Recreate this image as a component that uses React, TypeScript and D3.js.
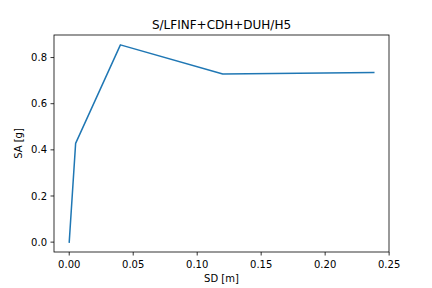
import React from "react";
import * as d3 from "d3";

const sdValues = [0, 0.005, 0.04, 0.12, 0.238];
const saValues = [0, 0.428, 0.855, 0.729, 0.735];
const xTicks = [0, 0.05, 0.1, 0.15, 0.2, 0.25];
const yTicks = [0, 0.2, 0.4, 0.6, 0.8];
const title = "S/LFINF+CDH+DUH/H5";
const xLabel = "SD [m]";
const yLabel = "SA [g]";

export default function App() {
  const W = 432, H = 288;
  const left = 54, right = 389, top = 35, bottom = 252;
  const xMax = d3.max(sdValues)!;
  const yMax = d3.max(saValues)!;
  const x = d3.scaleLinear().domain([-0.05 * xMax, 1.05 * xMax]).range([left, right]);
  const y = d3.scaleLinear().domain([-0.05 * yMax, 1.05 * yMax]).range([bottom, top]);
  const pts: [number, number][] = sdValues.map((d, i) => [d, saValues[i]]);
  const line = d3.line<[number, number]>().x((d) => x(d[0])).y((d) => y(d[1]));
  const font = "DejaVu Sans, sans-serif";
  return (
    <svg width={W} height={H} style={{ position: "absolute", left: 0, top: 0, background: "#fff" }} fontFamily={font}>
      <rect x={0} y={0} width={W} height={H} fill="#fff" />
      <path d={line(pts)!} fill="none" stroke="#1f77b4" strokeWidth={1.5} strokeLinejoin="round" strokeLinecap="square" />
      <rect x={left} y={top} width={right - left} height={bottom - top} fill="none" stroke="#000" strokeWidth={0.8} />
      {xTicks.map((t) => (
        <g key={"x" + t}>
          <line x1={x(t)} x2={x(t)} y1={bottom} y2={bottom + 3.5} stroke="#000" strokeWidth={0.8} />
          <text x={x(t)} y={bottom + 15.5} fontSize={10} textAnchor="middle" fill="#000">{t.toFixed(2)}</text>
        </g>
      ))}
      {yTicks.map((t) => (
        <g key={"y" + t}>
          <line x1={left - 3.5} x2={left} y1={y(t)} y2={y(t)} stroke="#000" strokeWidth={0.8} />
          <text x={left - 7} y={y(t) + 3.6} fontSize={10} textAnchor="end" fill="#000">{t.toFixed(1)}</text>
        </g>
      ))}
      <text x={(left + right) / 2} y={29} fontSize={12} textAnchor="middle" fill="#000">{title}</text>
      <text x={(left + right) / 2} y={282} fontSize={10} textAnchor="middle" fill="#000">{xLabel}</text>
      <text transform={`translate(22,${(top + bottom) / 2}) rotate(-90)`} fontSize={10} textAnchor="middle" fill="#000">{yLabel}</text>
    </svg>
  );
}
